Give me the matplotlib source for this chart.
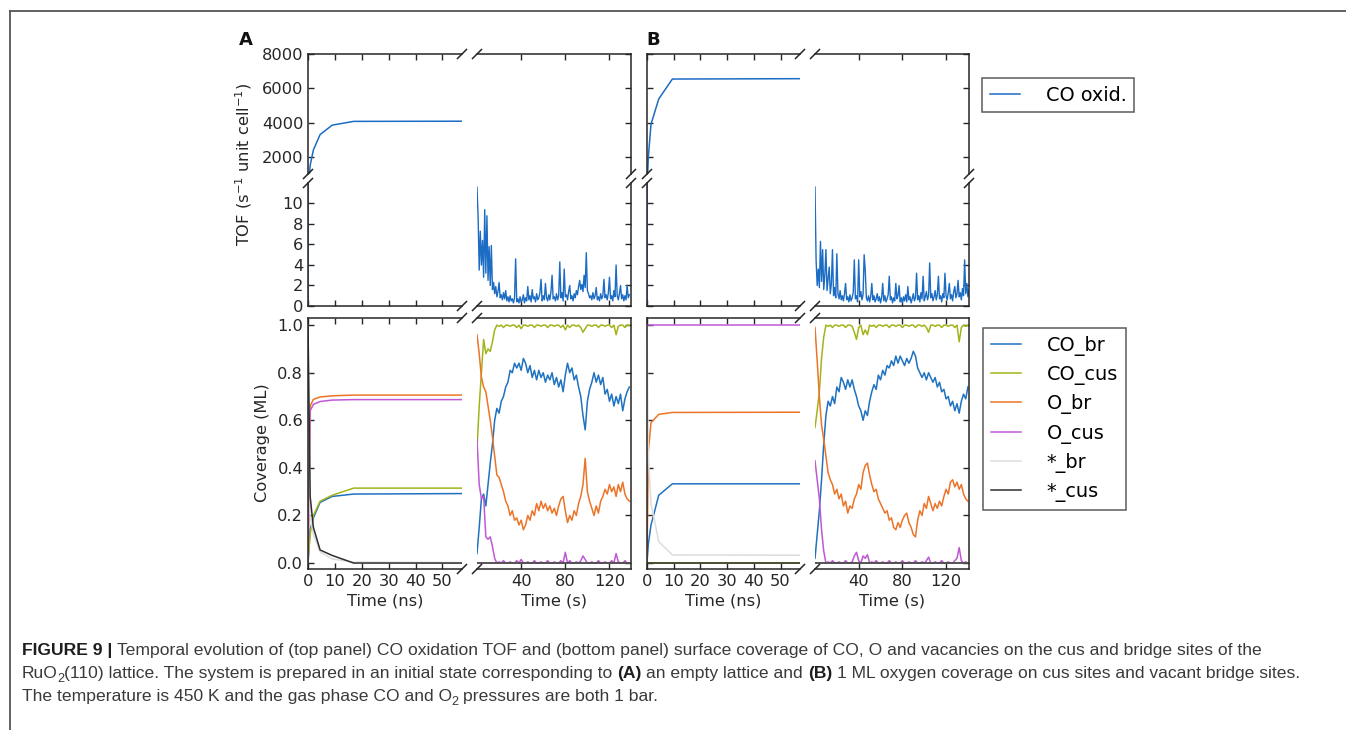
import numpy as np
import matplotlib.pyplot as plt
from matplotlib.lines import Line2D

plt.rcParams['font.family'] = ['DejaVu Sans']
plt.rcParams['mathtext.fontset'] = 'dejavusans'

# ---------------- data, panel A (empty lattice) ----------------
t_ns_a = [0, 0.8, 2, 4.5, 9, 17, 57.5]
tof_ns_a = [0, 1500, 2400, 3300, 3850, 4070, 4080]
co_br_ns_a = [0, 0.14, 0.19, 0.255, 0.28, 0.29, 0.292]
co_cus_ns_a = [0, 0.12, 0.20, 0.26, 0.285, 0.315, 0.315]
o_br_ns_a = [0, 0.66, 0.688, 0.698, 0.703, 0.706, 0.706]
o_cus_ns_a = [0, 0.64, 0.667, 0.679, 0.685, 0.687, 0.687]
v_br_ns_a = [1, 0.20, 0.12, 0.047, 0.017, 0.004, 0.002]
v_cus_ns_a = [1, 0.28, 0.15, 0.055, 0.032, 0.0, 0.0]

t_tof_s_a = np.arange(0, 139)
tof_s_a = [11.6, 8.7, 3.5, 7.3, 4.0, 6.4, 2.8, 9.4, 3.2, 8.8,
           2.5, 5.8, 2.0, 5.9, 1.6, 2.3, 1.2, 1.9, 0.9, 1.4,
           2.3, 0.8, 1.1, 0.6, 1.3, 0.7, 1.5, 0.5, 0.9, 0.4,
           1.0, 0.5, 0.7, 0.3, 0.8, 4.6, 0.4, 0.7, 0.3, 0.9,
           0.4, 0.6, 1.1, 0.3, 0.8, 0.5, 1.9, 0.6, 1.0, 0.4,
           1.6, 0.7, 0.9, 0.4, 1.2, 0.6, 0.8, 1.3, 2.6, 0.5,
           1.0, 0.6, 2.2, 0.8, 0.5, 1.1, 0.6, 1.4, 3.0, 0.7,
           0.9, 0.5, 1.2, 0.6, 1.0, 4.3, 0.8, 1.3, 0.5, 3.6,
           0.9, 1.1, 0.6, 1.4, 2.0, 0.7, 1.0, 0.5, 1.2, 0.8,
           1.5, 1.1, 1.9, 2.5, 1.6, 2.1, 1.4, 3.0, 1.8, 5.2,
           1.5, 1.2, 0.8, 1.0, 0.6, 1.3, 0.7, 1.0, 1.8, 0.6,
           0.9, 0.5, 1.2, 0.7, 1.0, 2.6, 0.8, 1.1, 0.6, 1.3,
           2.8, 0.7, 1.0, 0.5, 1.5, 0.9, 4.0, 1.0, 0.6, 1.2,
           2.0, 0.7, 1.1, 0.5, 1.0, 0.6, 2.0, 0.8, 1.1]

t_cov_s_a = np.arange(0, 139, 2)
co_br_s_a = [0.04, 0.15, 0.27, 0.29, 0.24, 0.33, 0.42, 0.50, 0.60, 0.65,
             0.63, 0.68, 0.70, 0.74, 0.76, 0.81, 0.80, 0.84, 0.82, 0.84,
             0.81, 0.86, 0.84, 0.80, 0.83, 0.78, 0.81, 0.77, 0.81, 0.78,
             0.80, 0.76, 0.79, 0.77, 0.80, 0.75, 0.78, 0.74, 0.77, 0.72,
             0.79, 0.84, 0.80, 0.82, 0.77, 0.79, 0.74, 0.70, 0.62, 0.56,
             0.68, 0.73, 0.76, 0.80, 0.76, 0.79, 0.75, 0.78, 0.71, 0.73,
             0.68, 0.71, 0.66, 0.70, 0.67, 0.71, 0.64, 0.69, 0.72, 0.74]
co_cus_s_a = [0.48, 0.66, 0.80, 0.94, 0.88, 0.90, 0.89, 0.93, 0.98, 1.00,
              0.995, 1.00, 0.99, 1.00, 1.00, 0.995, 1.00, 1.00, 0.99, 1.00,
              0.985, 1.00, 1.00, 0.995, 1.00, 1.00, 0.99, 1.00, 1.00, 0.995,
              1.00, 1.00, 0.99, 1.00, 1.00, 0.995, 1.00, 1.00, 0.99, 1.00,
              0.98, 1.00, 0.99, 1.00, 1.00, 0.995, 1.00, 0.99, 0.97, 0.985,
              1.00, 1.00, 0.995, 1.00, 1.00, 0.99, 1.00, 1.00, 0.995, 1.00,
              1.00, 0.99, 1.00, 0.96, 0.995, 1.00, 1.00, 0.99, 1.00, 1.00]
o_br_s_a = [0.96, 0.88, 0.78, 0.74, 0.72, 0.66, 0.60, 0.53, 0.45, 0.37,
            0.36, 0.33, 0.30, 0.26, 0.24, 0.20, 0.22, 0.18, 0.19, 0.16,
            0.18, 0.14, 0.16, 0.20, 0.18, 0.22, 0.20, 0.25, 0.22, 0.26,
            0.23, 0.25, 0.22, 0.24, 0.21, 0.23, 0.20, 0.24, 0.27, 0.28,
            0.22, 0.17, 0.20, 0.18, 0.22, 0.20, 0.25, 0.28, 0.33, 0.44,
            0.30, 0.26, 0.23, 0.20, 0.24, 0.21, 0.26, 0.28, 0.31, 0.29,
            0.33, 0.30, 0.32, 0.28, 0.33, 0.30, 0.34, 0.29, 0.27, 0.26]
o_cus_s_a = [0.52, 0.33, 0.27, 0.28, 0.11, 0.10, 0.11, 0.07, 0.02, 0.00,
             0.005, 0.00, 0.01, 0.00, 0.00, 0.005, 0.00, 0.00, 0.01, 0.00,
             0.015, 0.00, 0.00, 0.005, 0.00, 0.00, 0.01, 0.00, 0.00, 0.005,
             0.00, 0.00, 0.01, 0.00, 0.00, 0.005, 0.00, 0.00, 0.01, 0.00,
             0.045, 0.00, 0.01, 0.00, 0.00, 0.005, 0.00, 0.01, 0.03, 0.015,
             0.00, 0.00, 0.005, 0.00, 0.00, 0.01, 0.00, 0.00, 0.005, 0.00,
             0.00, 0.01, 0.00, 0.04, 0.005, 0.00, 0.00, 0.01, 0.00, 0.00]
t_vac_s_a = [0, 139]
v_br_s_a = [0.0, 0.0]
v_cus_s_a = [0.0, 0.0]

# ---------------- data, panel B (O-covered cus sites) ----------------
t_ns_b = [0, 0.5, 1.5, 4.4, 9.5, 57.5]
tof_ns_b = [0, 2000, 3900, 5380, 6540, 6560]
co_br_ns_b = [0, 0.08, 0.16, 0.285, 0.333, 0.333]
co_cus_ns_b = [0, 0, 0, 0, 0, 0]
o_br_ns_b = [0, 0.47, 0.59, 0.625, 0.633, 0.634]
o_cus_ns_b = [1, 1, 1, 1, 1, 1]
v_br_ns_b = [1, 0.45, 0.25, 0.09, 0.034, 0.033]
v_cus_ns_b = [0, 0, 0, 0, 0, 0]

t_tof_s_b = np.arange(0, 142)
tof_s_b = [11.6, 4.5, 2.0, 3.6, 1.8, 6.3, 2.4, 5.5, 1.6, 3.0,
           5.5, 1.5, 2.6, 3.8, 1.2, 2.2, 5.5, 1.0, 1.8, 0.8,
           5.1, 1.2, 0.7, 1.5, 0.6, 1.0, 0.5, 1.2, 2.2, 0.6,
           0.9, 0.4, 1.1, 0.5, 0.8, 1.3, 4.5, 0.7, 1.0, 0.4,
           4.5, 0.9, 1.4, 0.6, 1.1, 5.0, 3.5, 0.8, 0.5, 1.0,
           0.4, 0.9, 2.2, 0.6, 1.0, 0.4, 0.7, 1.2, 0.5, 0.9,
           0.3, 0.8, 2.2, 0.5, 1.0, 0.4, 0.7, 1.1, 2.9, 0.6,
           0.9, 0.3, 0.8, 0.5, 2.2, 0.7, 1.0, 2.0, 0.4, 0.8,
           0.3, 0.9, 0.5, 1.1, 0.4, 1.9, 0.6, 0.9, 0.3, 0.7,
           1.2, 0.5, 0.8, 3.2, 0.6, 1.0, 0.4, 1.3, 0.7, 2.9,
           0.5, 0.9, 1.4, 0.6, 1.0, 4.2, 0.8, 1.2, 0.5, 0.9,
           1.5, 0.6, 1.1, 2.9, 0.7, 1.0, 0.4, 1.2, 0.8, 3.2,
           1.0, 0.6, 1.3, 2.2, 0.7, 1.1, 0.5, 1.4, 1.9, 0.8,
           1.2, 2.5, 0.9, 1.3, 0.6, 1.7, 1.0, 4.5, 1.2, 2.2,
           0.9, 1.6]

t_cov_s_b = np.arange(0, 141, 2)
co_br_s_b = [0.02, 0.12, 0.22, 0.35, 0.50, 0.62, 0.68, 0.66, 0.70, 0.67,
             0.74, 0.72, 0.78, 0.76, 0.73, 0.77, 0.74, 0.77, 0.73, 0.70,
             0.66, 0.64, 0.60, 0.64, 0.62, 0.68, 0.72, 0.75, 0.73, 0.79,
             0.77, 0.81, 0.79, 0.83, 0.82, 0.85, 0.83, 0.87, 0.84, 0.87,
             0.85, 0.83, 0.86, 0.84, 0.86, 0.89, 0.87, 0.82, 0.80, 0.78,
             0.80, 0.77, 0.80, 0.78, 0.76, 0.78, 0.74, 0.76, 0.72, 0.73,
             0.69, 0.70, 0.66, 0.68, 0.64, 0.67, 0.63, 0.68, 0.71, 0.69,
             0.74]
co_cus_s_b = [0.57, 0.64, 0.72, 0.86, 0.95, 1.00, 0.995, 1.00, 0.99, 1.00,
              1.00, 0.995, 1.00, 1.00, 0.99, 1.00, 1.00, 0.995, 0.97, 0.94,
              0.99, 1.00, 0.96, 0.98, 0.96, 1.00, 0.995, 1.00, 0.99, 1.00,
              1.00, 0.995, 1.00, 1.00, 0.99, 1.00, 1.00, 0.995, 1.00, 1.00,
              0.99, 1.00, 1.00, 0.995, 1.00, 1.00, 0.99, 1.00, 1.00, 0.995,
              1.00, 0.99, 0.97, 1.00, 1.00, 0.995, 1.00, 1.00, 0.99, 1.00,
              1.00, 0.995, 1.00, 1.00, 0.99, 1.00, 0.93, 0.99, 1.00, 0.995,
              1.00]
o_br_s_b = [0.99, 0.85, 0.70, 0.58, 0.52, 0.45, 0.38, 0.35, 0.33, 0.29,
            0.31, 0.27, 0.29, 0.24, 0.26, 0.21, 0.24, 0.23, 0.27, 0.29,
            0.33, 0.31, 0.38, 0.41, 0.42, 0.37, 0.33, 0.30, 0.31, 0.27,
            0.25, 0.23, 0.21, 0.22, 0.18, 0.19, 0.15, 0.14, 0.17, 0.15,
            0.18, 0.20, 0.21, 0.17, 0.15, 0.12, 0.11, 0.18, 0.22, 0.20,
            0.25, 0.23, 0.28, 0.25, 0.22, 0.25, 0.23, 0.26, 0.24, 0.28,
            0.31, 0.29, 0.34, 0.35, 0.32, 0.34, 0.31, 0.33, 0.29, 0.27,
            0.26]
o_cus_s_b = [0.43, 0.35, 0.27, 0.14, 0.05, 0.00, 0.005, 0.00, 0.01, 0.00,
             0.00, 0.005, 0.00, 0.00, 0.01, 0.00, 0.00, 0.005, 0.03, 0.045,
             0.01, 0.00, 0.03, 0.02, 0.035, 0.00, 0.005, 0.00, 0.01, 0.00,
             0.00, 0.005, 0.00, 0.00, 0.01, 0.00, 0.00, 0.005, 0.00, 0.00,
             0.01, 0.00, 0.00, 0.005, 0.00, 0.00, 0.01, 0.00, 0.00, 0.005,
             0.00, 0.01, 0.025, 0.00, 0.00, 0.005, 0.00, 0.00, 0.01, 0.00,
             0.00, 0.005, 0.00, 0.00, 0.01, 0.02, 0.065, 0.01, 0.00, 0.005,
             0.00]
t_vac_s_b = [0, 141]
v_br_s_b = [0.0, 0.0]
v_cus_s_b = [0.0, 0.0]

cov_names = ['CO_br', 'CO_cus', 'O_br', 'O_cus', '*_br', '*_cus']
cov_colors = ['#1f72c0', '#a3b419', '#ec7428', '#c058d6', '#dcdcdc', '#2e2e2e']
tof_color = '#1c6cc4'

# ---------------- layout (pixel boxes) ----------------
W, H = 1346, 730
fig = plt.figure(figsize=(W / 100, H / 100), dpi=100)
ink = '#262626'
fs = 11.7
rows = {'hi': (54, 174), 'lo': (183, 306), 'cov': (318, 569)}


def add_ax(xs, ys):
    return fig.add_axes([xs[0] / W, 1 - ys[1] / H, (xs[1] - xs[0]) / W, (ys[1] - ys[0]) / H])


def fmt(ax, side, row, ylab):
    for sp in ax.spines.values():
        sp.set_color(ink)
        sp.set_linewidth(1.1)
    ax.tick_params(which='both', direction='in', length=4, width=1, color=ink,
                   labelcolor=ink, labelsize=fs)
    ax.tick_params(top=(row != 'lo'), bottom=(row != 'hi'),
                   labelbottom=(row == 'cov'), labeltop=False)
    if side == 'ns':
        ax.spines['right'].set_visible(False)
        ax.tick_params(left=True, right=False, labelleft=ylab, labelright=False)
    else:
        ax.spines['left'].set_visible(False)
        ax.tick_params(left=False, right=True, labelleft=False, labelright=False)
    if row == 'hi':
        ax.spines['bottom'].set_visible(False)
        ax.set_ylim(1000, 8000)
        ax.set_yticks([2000, 4000, 6000, 8000])
    elif row == 'lo':
        ax.spines['top'].set_visible(False)
        ax.set_ylim(0, 12)
        ax.set_yticks([0, 2, 4, 6, 8, 10])
    else:
        ax.set_ylim(-0.025, 1.03)
        ax.set_yticks([0, 0.2, 0.4, 0.6, 0.8, 1.0])
        ax.set_yticklabels(['0.0', '0.2', '0.4', '0.6', '0.8', '1.0'])


def slash(x, y, d=4.5):
    fig.add_artist(Line2D([(x - d) / W, (x + d) / W], [1 - (y + d) / H, 1 - (y - d) / H],
                          color=ink, lw=1.1))


def panel(cols, s_xmax, ylab, t_ns, tof_ns, cov_ns, t_tof_s, tof_s, cov_s):
    for row in ['hi', 'lo', 'cov']:
        for side in ['ns', 's']:
            ax = add_ax(cols[side], rows[row])
            fmt(ax, side, row, ylab)
            if side == 'ns':
                ax.set_xlim(0, 57.3)
                ax.set_xticks([0, 10, 20, 30, 40, 50])
            else:
                ax.set_xlim(0, s_xmax)
                ax.set_xticks([40, 80, 120])
            if row == 'cov':
                ax.set_xlabel('Time (ns)' if side == 'ns' else 'Time (s)', fontsize=fs,
                              color=ink, labelpad=3)
                series = cov_ns if side == 'ns' else cov_s
                for (tt, yy), c in zip(series, cov_colors):
                    ax.plot(tt, yy, color=c, lw=1.1)
            else:
                if side == 'ns':
                    ax.plot(t_ns, tof_ns, color=tof_color, lw=1.1)
                else:
                    ax.plot(t_tof_s, tof_s, color=tof_color, lw=1.0)
    xn0, xn1 = cols['ns']
    xs0, xs1 = cols['s']
    for y in [54, 306, 318, 569]:
        slash(xn1, y)
        slash(xs0, y)
    for y in [174, 183]:
        slash(xn0, y)
        slash(xs1, y)


cols_a = {'ns': (308, 462), 's': (477, 631)}
cols_b = {'ns': (647, 800), 's': (815, 969)}

panel(cols_a, 139.5, True, t_ns_a, tof_ns_a,
      [(t_ns_a, co_br_ns_a), (t_ns_a, co_cus_ns_a), (t_ns_a, o_br_ns_a),
       (t_ns_a, o_cus_ns_a), (t_ns_a, v_br_ns_a), (t_ns_a, v_cus_ns_a)],
      t_tof_s_a, tof_s_a,
      [(t_cov_s_a, co_br_s_a), (t_cov_s_a, co_cus_s_a), (t_cov_s_a, o_br_s_a),
       (t_cov_s_a, o_cus_s_a), (t_vac_s_a, v_br_s_a), (t_vac_s_a, v_cus_s_a)])
panel(cols_b, 141, False, t_ns_b, tof_ns_b,
      [(t_ns_b, co_br_ns_b), (t_ns_b, co_cus_ns_b), (t_ns_b, o_br_ns_b),
       (t_ns_b, o_cus_ns_b), (t_ns_b, v_br_ns_b), (t_ns_b, v_cus_ns_b)],
      t_tof_s_b, tof_s_b,
      [(t_cov_s_b, co_br_s_b), (t_cov_s_b, co_cus_s_b), (t_cov_s_b, o_br_s_b),
       (t_cov_s_b, o_cus_s_b), (t_vac_s_b, v_br_s_b), (t_vac_s_b, v_cus_s_b)])

fig.text(246 / W, 1 - 40 / H, 'A', fontsize=13, fontweight='bold', color='#111',
         ha='center', va='center')
fig.text(653 / W, 1 - 40 / H, 'B', fontsize=13, fontweight='bold', color='#111',
         ha='center', va='center')
fig.text(244 / W, 1 - 164 / H, 'TOF (s$^{-1}$ unit cell$^{-1}$)', rotation=90,
         fontsize=fs, color=ink, ha='center', va='center')
fig.text(262 / W, 1 - 443 / H, 'Coverage (ML)', rotation=90,
         fontsize=fs, color=ink, ha='center', va='center')

leg_fs = 13.9
leg_kw = dict(loc='upper left', fontsize=leg_fs, frameon=True, fancybox=False,
              edgecolor='#333333', borderaxespad=0, handlelength=1.55,
              handletextpad=1.35, borderpad=0.4, labelspacing=0.48)
l1 = fig.legend([Line2D([], [], color=tof_color, lw=1.1)], ['CO oxid.'],
                bbox_to_anchor=(982 / W, 1 - 78 / H), **leg_kw)
l1.get_frame().set_linewidth(1.1)
l2 = fig.legend([Line2D([], [], color=c, lw=1.1) for c in cov_colors], cov_names,
                bbox_to_anchor=(983 / W, 1 - 328 / H), **leg_kw)
l2.get_frame().set_linewidth(1.1)

# frame around figure + caption
fig.add_artist(Line2D([9.5 / W, 9.5 / W], [0, 1 - 10.5 / H], color='#555555', lw=1.3))
fig.add_artist(Line2D([9.5 / W, 1], [1 - 10.5 / H, 1 - 10.5 / H], color='#555555', lw=1.3))

# caption
cap_font = ['Liberation Sans', 'DejaVu Sans']
cap_fs = 12.6
rend = fig.canvas.get_renderer()
probe1 = fig.text(0, 0, 'x x', family=cap_font, fontsize=cap_fs)
probe2 = fig.text(0, 0, 'xx', family=cap_font, fontsize=cap_fs)
space_w = probe1.get_window_extent(rend).width - probe2.get_window_extent(rend).width
probe1.remove()
probe2.remove()


def caption_line(y_px, parts):
    x = 22
    for text, bold, sub, gap in parts:
        x += gap * space_w
        if sub:
            x -= 1.0
        t = fig.text(x / W, 1 - (y_px + (4 if sub else 0)) / H, text, family=cap_font,
                     fontsize=cap_fs * (0.72 if sub else 1),
                     fontweight='bold' if bold else 'normal',
                     color='#1e1e1e' if bold else '#3a3a3a', ha='left', va='baseline')
        x += t.get_window_extent(rend).width


caption_line(655, [('FIGURE 9 |', True, False, 0),
                   ('Temporal evolution of (top panel) CO oxidation TOF and (bottom panel) surface '
                    'coverage of CO, O and vacancies on the cus and bridge sites of the', False, False, 1)])
caption_line(678, [('RuO', False, False, 0), ('2', False, True, 0),
                   ('(110) lattice. The system is prepared in an initial state corresponding to',
                    False, False, 0),
                   ('(A)', True, False, 1), ('an empty lattice and', False, False, 1),
                   ('(B)', True, False, 1),
                   ('1 ML oxygen coverage on cus sites and vacant bridge sites.', False, False, 1)])
caption_line(701, [('The temperature is 450 K and the gas phase CO and O', False, False, 0),
                   ('2', False, True, 0), ('pressures are both 1 bar.', False, False, 1)])

fig.savefig('out.png', dpi=100)
